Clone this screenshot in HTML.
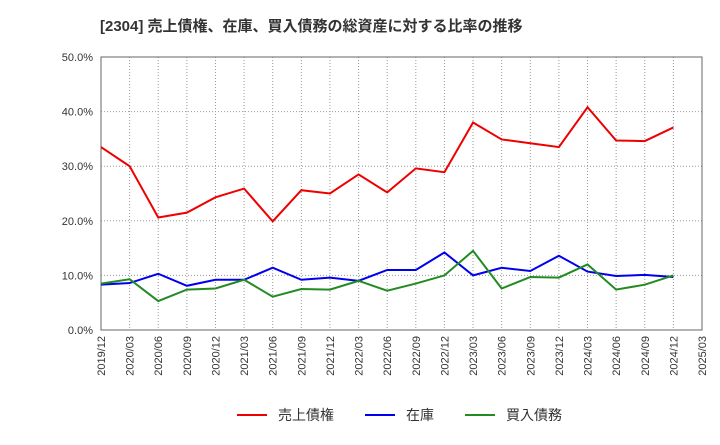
<!DOCTYPE html>
<html><head><meta charset="utf-8"><style>
body{margin:0;background:#fff;font-family:"Liberation Sans","Noto Sans CJK JP",sans-serif;}
</style></head><body>
<svg width="720" height="440" xmlns="http://www.w3.org/2000/svg">
<text x="100" y="31" font-size="15" font-weight="bold" fill="#333" font-family="Liberation Sans, Noto Sans CJK JP, sans-serif">[2304]  売上債権、在庫、買入債務の総資産に対する比率の推移</text>
<g id="grid"></g><g id="axes"></g><g id="series"></g>
<g font-size="14" font-family="Liberation Sans, Noto Sans CJK JP, sans-serif" fill="#333">
<line x1="237" y1="415" x2="267" y2="415" stroke="#e00" stroke-width="2"/><text x="278" y="420">売上債権</text>
<line x1="365" y1="415" x2="395" y2="415" stroke="#00e" stroke-width="2"/><text x="406" y="420">在庫</text>
<line x1="465" y1="415" x2="495" y2="415" stroke="#228b22" stroke-width="2"/><text x="506" y="420">買入債務</text>
</g>
</svg>
<script>
const categories=["2019/12","2020/03","2020/06","2020/09","2020/12","2021/03","2021/06","2021/09","2021/12","2022/03","2022/06","2022/09","2022/12","2023/03","2023/06","2023/09","2023/12","2024/03","2024/06","2024/09","2024/12","2025/03"];
const receivables=[33.5,30.0,20.6,21.5,24.3,25.9,19.9,25.6,25.0,28.5,25.2,29.6,28.9,38.0,34.9,34.2,33.5,40.8,34.7,34.6,37.1];
const inventory=[8.3,8.6,10.3,8.1,9.2,9.2,11.4,9.2,9.6,9.0,11.0,11.0,14.2,10.0,11.4,10.8,13.6,10.7,9.9,10.1,9.7];
const payables=[8.5,9.3,5.3,7.4,7.6,9.2,6.1,7.5,7.4,9.0,7.2,8.5,10.0,14.5,7.6,9.7,9.6,12.0,7.4,8.3,10.0];
const yTicks=[0,10,20,30,40,50];
const NS="http://www.w3.org/2000/svg";
const L=101,R=702,T=57,B=330,YMAX=50;
const x=i=>L+(R-L)*i/(categories.length-1);
const y=v=>B-(B-T)*v/YMAX;
function mk(tag,attrs,parent){const e=document.createElementNS(NS,tag);for(const k in attrs)e.setAttribute(k,attrs[k]);parent.appendChild(e);return e;}
const grid=document.getElementById('grid'),axes=document.getElementById('axes'),ser=document.getElementById('series');
categories.forEach((c,i)=>{
 const g=mk('line',{x1:x(i),x2:x(i),y1:T,y2:B,stroke:'#999','stroke-dasharray':'1,2'},grid);
 
 
 const t=mk('text',{transform:`translate(${x(i)+4},${B+6}) rotate(-90)`,'text-anchor':'end','font-size':11,fill:'#333'},axes);
 t.textContent=c;
 
 
});
yTicks.forEach(v=>{
 const g=mk('line',{x1:L,x2:R,y1:y(v),y2:y(v),stroke:'#999','stroke-dasharray':'1,2'},grid);
 
 
 const t=mk('text',{x:L-8,y:y(v)+4,'text-anchor':'end','font-size':11,fill:'#333'},axes);
 t.textContent=v.toFixed(1)+'%';
 
 
});
const fr=mk('rect',{x:L,y:T,width:R-L,height:B-T,fill:'none',stroke:'#666'},axes);


[[receivables,'#e00','receivables-line'],[inventory,'#00e','inventory-line'],[payables,'#228b22','payables-line']].forEach(([d,c,n])=>{
 const p=mk('polyline',{points:d.map((v,i)=>x(i)+','+y(v)).join(' '),fill:'none',stroke:c,'stroke-width':2},ser);
 
 
});
</script>
</body></html>
